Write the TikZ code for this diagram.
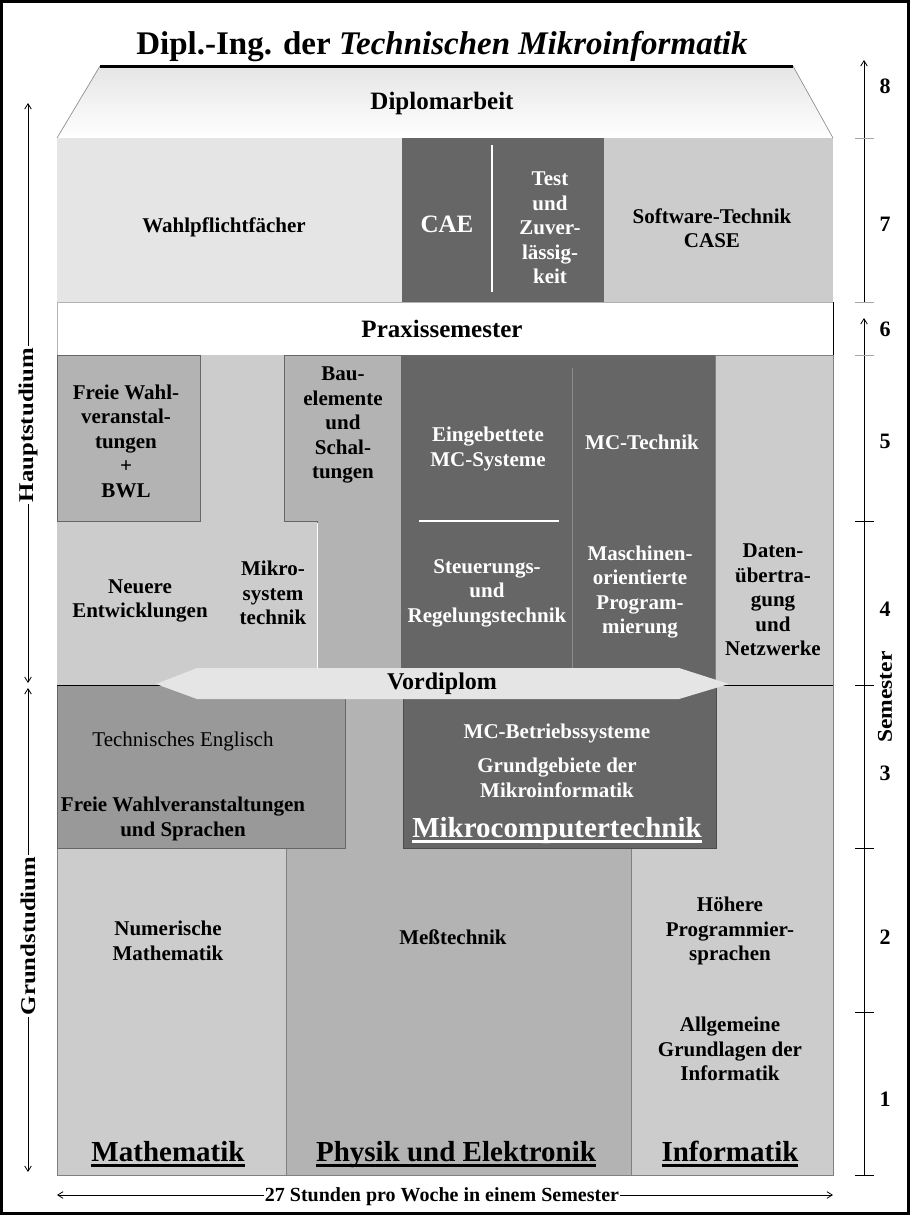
\documentclass[tikz,border=0pt]{standalone}
\usepackage{fontspec}
\setmainfont{Liberation Serif}
\usetikzlibrary{arrows.meta}
\definecolor{cA}{HTML}{E5E5E5}
\definecolor{cB}{HTML}{CCCCCC}
\definecolor{cC}{HTML}{B3B3B3}
\definecolor{cD}{HTML}{999999}
\definecolor{cE}{HTML}{666666}
\newcommand\fsN{\fontsize{15.75}{18.4}\selectfont}
\newcommand\fsL{\fontsize{21.75}{24}\selectfont}
\newcommand\fsM{\fontsize{18.75}{22}\selectfont}
\newsavebox\ulbox
\newcommand\thul[1]{\sbox\ulbox{#1}\rlap{\usebox\ulbox}\rule[-4.5pt]{\wd\ulbox}{2pt}}
\tikzset{
  box/.style={draw=black!55, line width=0.5pt},
  txt/.style={font=\fsN\bfseries, align=center, inner sep=0pt},
  wtxt/.style={txt, text=white},
  big/.style={font=\fsL\bfseries, inner sep=0pt, anchor=base},
  num/.style={font=\fontsize{16.5}{19}\selectfont\bfseries, inner sep=0pt},
  side/.style={font=\fsN\bfseries, inner sep=0pt, rotate=90, xscale=1.18},
  scl/.style={line width=0.6pt},
  tip/.style={-{Straight Barb[length=4pt,width=5pt]}},
  tips/.style={{Straight Barb[length=4pt,width=5pt]}-{Straight Barb[length=4pt,width=5pt]}},
  tick/.style={line width=0.6pt},
  gtick/.style={line width=0.6pt, draw=black!35}
}
\begin{document}
\begin{tikzpicture}[x=0.75pt, y=-0.75pt]
\useasboundingbox (0,0) rectangle (910,1215);
% frame
\draw[line width=2.25pt] (1.5,1.5) rectangle (908.5,1213.5);
% title
\node[font=\fontsize{24.75}{28}\selectfont\bfseries, inner sep=0pt] (title) at (442,47) {Dipl.-Ing. der \textit{Technischen Mikroinformatik}};
% Diplomarbeit trapezoid
\shade[top color=cA, bottom color=white] (100,66) -- (793,66) -- (833,138) -- (57,138) -- cycle;
\draw[black!45, line width=0.5pt] (100,66) -- (57,138) (793,66) -- (833,138);
\draw[line width=2.25pt] (100,66) -- (793,66);
% row 7
\fill[cA] (57,138) rectangle (402,302);
\filldraw[fill=cE, draw=black!60, line width=0.5pt] (402,138) rectangle (604,302);
\fill[cB] (604,138) rectangle (833,302);
\draw[white, line width=0.8pt] (492,145) -- (492,292);
% Praxis band
\draw[black!30, line width=0.5pt] (57,302) rectangle (833,355);
\draw[black, line width=0.6pt] (833,302) -- (833,355);
% rows 4-5
\fill[cB] (57,355) rectangle (401,685);
\filldraw[fill=cC, draw=black!60, line width=0.5pt] (284,355) -- (401,355) -- (401,685) -- (317,685) -- (317,521) -- (284,521) -- cycle;
\draw[white, line width=0.6pt] (317,523) -- (317,684);
\filldraw[fill=cC, draw=black!60, line width=0.5pt] (57,355) rectangle (200,521);
\fill[cE] (401,355) rectangle (715,685);
\filldraw[fill=cB, draw=black!50, line width=0.5pt] (715,355) rectangle (833,685);
\draw[black!45, line width=0.6pt] (572,368) -- (572,685);
\draw[white, line width=0.8pt] (419,521) -- (559,521);
% rows 1-3
\filldraw[fill=cB, draw=black!50, line width=0.5pt] (57,685) rectangle (286,1175);
\filldraw[fill=cC, draw=black!50, line width=0.5pt] (286,685) rectangle (631,1175);
\filldraw[fill=cB, draw=black!50, line width=0.5pt] (631,685) rectangle (833,1175);
\filldraw[fill=cD, draw=black!60, line width=0.5pt] (57,685) rectangle (345,848);
\filldraw[fill=cE, draw=black!70, line width=0.6pt] (403,685) rectangle (716,848);
\draw[black, line width=0.6pt] (57,685) -- (833,685);
% Vordiplom
\fill[cA] (156,684) -- (197,668) -- (679,668) -- (729,684) -- (679,699) -- (197,699) -- cycle;
\node[font=\fontsize{18}{20}\selectfont\bfseries, inner sep=0pt] (vordiplom) at (442,684) {Vordiplom};
% texts
\node[font=\fontsize{18.75}{22}\selectfont\bfseries, inner sep=0pt] (diplom) at (442,103) {Diplomarbeit};
\node[txt] (wahlpf) at (224,227) {Wahlpflichtfächer};
\node[font=\fsM\bfseries, text=white, inner sep=0pt] (cae) at (447,224) {CAE};
\node[wtxt] (test) at (550,228) {Test\\und\\Zuver-\\lässig-\\keit};
\node[txt] (soft) at (712,228) {Software-Technik\\CASE};
\node[font=\fontsize{18.75}{22}\selectfont\bfseries, inner sep=0pt] (praxis) at (442,329) {Praxissemester};
\node[txt] (freie) at (126,441) {Freie Wahl-\\veranstal-\\tungen\\+\\BWL};
\node[txt] (bau) at (343,425) {Bau-\\elemente\\und\\Schal-\\tungen};
\node[txt] (neuere) at (140,601) {Neuere\\Entwicklungen};
\node[txt] (mikrosys) at (273,593) {Mikro-\\system\\technik};
\node[wtxt] (eingeb) at (488,449) {Eingebettete\\MC-Systeme};
\node[wtxt] (mctech) at (642,442) {MC-Technik};
\node[wtxt] (steuer) at (487,593) {Steuerungs-\\und\\Regelungstechnik};
\node[wtxt] (masch) at (640,592) {Maschinen-\\orientierte\\Program-\\mierung};
\node[txt] (daten) at (773,600) {Daten-\\übertra-\\gung\\und\\Netzwerke};
\node[font=\fsN, inner sep=0pt] (engl) at (183,741) {Technisches Englisch};
\node[txt] (freiesp) at (183,819) {Freie Wahlveranstaltungen\\und Sprachen};
\node[wtxt] (mcbs) at (557,733) {MC-Betriebssysteme};
\node[wtxt] (grundg) at (557,778) {Grundgebiete der\\Mikroinformatik};
\node[big, text=white] (mikrocomp) at (557,837) {\thul{Mikrocomputertechnik}};
\node[txt] (numer) at (168,941) {Numerische\\Mathematik};
\node[txt] (mess) at (453,937) {Meßtechnik};
\node[txt] (hoeh) at (730,931) {Höhere\\Programmier-\\sprachen};
\node[txt] (allg) at (730,1049) {Allgemeine\\Grundlagen der\\Informatik};
\node[big] (math) at (168,1161) {\thul{Mathematik}};
\node[big] (phys) at (456,1161) {\thul{Physik und Elektronik}};
\node[big] (info) at (730,1161) {\thul{Informatik}};
% right scale
\coordinate (rtop) at (864,60);
\coordinate (r7b) at (864,302);
\coordinate (rlow) at (864,1175);
\coordinate (r6t) at (864,318);
\draw[scl, tip] (r7b) -- (rtop);
\draw[scl, tip] (rlow) -- (r6t);
\foreach \yy in {138,302,355} \draw[gtick] (855,\yy) -- (874,\yy);
\foreach \yy in {521,685,848,1012,1175} \draw[tick] (855,\yy) -- (874,\yy);
\node[num] (n8) at (885,86) {8};
\node[num] (n7) at (885,224) {7};
\node[num] (n6) at (885,329) {6};
\node[num] (n5) at (885,441) {5};
\node[num] (n4) at (885,609) {4};
\node[num] (n3) at (885,773) {3};
\node[num] (n2) at (885,937) {2};
\node[num] (n1) at (885,1099) {1};
\node[side, xscale=0.95] (sem) at (885,697) {Semester};
% left scale
\coordinate (ht) at (28,103);
\coordinate (hb) at (28,683);
\coordinate (gt) at (28,688);
\coordinate (gb) at (28,1172);
\draw[scl, tips] (ht) -- (hb);
\draw[scl, tips] (gt) -- (gb);
\node[side, fill=white, inner xsep=1pt] (haupt) at (28,425) {Hauptstudium};
\node[side, fill=white, inner xsep=1pt] (grund) at (28,936) {Grundstudium};
% bottom arrow
\coordinate (bl) at (57,1195);
\coordinate (br) at (833,1195);
\draw[scl, tips] (bl) -- (br);
\node[font=\fontsize{15}{18}\selectfont\bfseries, fill=white, inner sep=0.5pt] (stunden) at (442,1197) {27 Stunden pro Woche in einem Semester};
\end{tikzpicture}
\end{document}
